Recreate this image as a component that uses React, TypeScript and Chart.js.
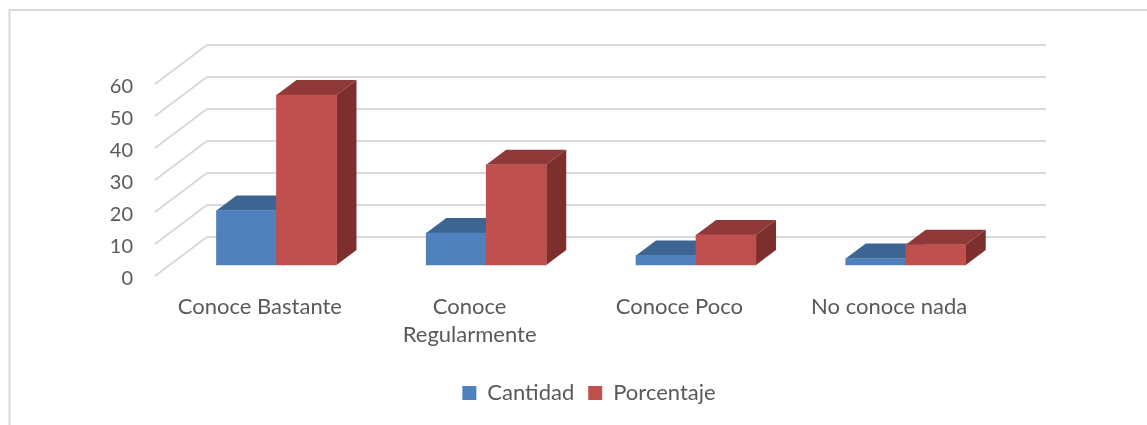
import React, { useEffect, useRef } from "react";
import { Chart, registerables } from "chart.js";

Chart.register(...registerables);

const categories = ["Conoce Bastante", ["Conoce", "Regularmente"], "Conoce Poco", "No conoce nada"];
const cantidad = [17, 10, 3, 2];
const porcentaje = [53.1, 31.3, 9.4, 6.3];
const seriesNames = ["Cantidad", "Porcentaje"];
const frontColors = ["#4F81BD", "#C0504D"];
const topColors = ["#3E6592", "#8F3A38"];
const sideColors = ["#35567C", "#7C2F2D"];

const GRID_LIFT = 3;
const WALL_DX = 52;
const WALL_DY = 39;
const PLANE_DX = 16.6;
const PLANE_DY = 14;
const BAR_DX = 20;
const BAR_DY = 15;
const LEGEND_SHIFT = 92;

const drawFaces = (chart: any, i: number) => {
  const { ctx } = chart;
  for (const bar of chart.getDatasetMeta(i).data) {
    const { x, y, base, width } = bar.getProps(["x", "y", "base", "width"], true);
    const l = x - width / 2;
    const r = x + width / 2;
    ctx.fillStyle = topColors[i];
    ctx.beginPath();
    ctx.moveTo(l, y);
    ctx.lineTo(l + BAR_DX, y - BAR_DY);
    ctx.lineTo(r + BAR_DX, y - BAR_DY);
    ctx.lineTo(r, y);
    ctx.closePath();
    ctx.fill();
    ctx.fillStyle = sideColors[i];
    ctx.beginPath();
    ctx.moveTo(r, y);
    ctx.lineTo(r + BAR_DX, y - BAR_DY);
    ctx.lineTo(r + BAR_DX, base - BAR_DY);
    ctx.lineTo(r, base);
    ctx.closePath();
    ctx.fill();
  }
};

const chart3d = {
  id: "chart3d",
  beforeDraw(chart: any) {
    const { ctx, chartArea, scales, legend } = chart;
    ctx.save();
    ctx.strokeStyle = "#D9D9D9";
    ctx.lineWidth = 2;
    ctx.strokeRect(9.5, 10, chart.width + 20, chart.height + 20);
    ctx.lineWidth = 1.8;
    for (const tick of scales.y.ticks) {
      const y = scales.y.getPixelForValue(tick.value) - GRID_LIFT;
      ctx.beginPath();
      ctx.moveTo(chartArea.left, y);
      ctx.lineTo(chartArea.left + WALL_DX, y - WALL_DY);
      ctx.lineTo(chartArea.right + WALL_DX, y - WALL_DY);
      ctx.stroke();
    }
    ctx.restore();
    if (legend && !legend.$shifted) {
      legend.left += LEGEND_SHIFT;
      legend.right += LEGEND_SHIFT;
      legend.$shifted = true;
    }
  },
  // Paint the datasets first to last, so that each bar hides the top face of the one before it.
  beforeDatasetsDraw(chart: any) {
    const { ctx } = chart;
    ctx.save();
    ctx.translate(PLANE_DX, -PLANE_DY);
    chart.data.datasets.forEach((_: any, i: number) => {
      drawFaces(chart, i);
      chart.getDatasetMeta(i).controller.draw();
    });
    ctx.restore();
    return false;
  },
};

export default function App() {
  const ref = useRef<HTMLCanvasElement>(null);
  useEffect(() => {
    const font = { family: "Lato", size: 22 };
    const chart = new Chart(ref.current!, {
      type: "bar",
      data: {
        labels: categories as any,
        datasets: [
          { label: seriesNames[0], data: cantidad, backgroundColor: frontColors[0] },
          { label: seriesNames[1], data: porcentaje, backgroundColor: frontColors[1] },
        ],
      },
      options: {
        responsive: false,
        animation: false,
        events: [],
        barThickness: 60,
        layout: { padding: { top: 87, left: 0, right: 153, bottom: 11 } },
        scales: {
          x: {
            grid: { display: false },
            border: { display: false },
            afterFit: (s: any) => { s.height = 89; },
            ticks: {
              color: "#595959",
              font: { ...font, lineHeight: 1.27 },
              padding: 6,
              autoSkip: false,
              maxRotation: 0,
              minRotation: 0,
            },
          },
          y: {
            min: 0,
            max: 60,
            grid: { display: false, drawTicks: false },
            border: { display: false },
            afterFit: (s: any) => { s.width = 155; },
            ticks: { stepSize: 10, color: "#595959", font: { family: "Lato", size: 20 }, padding: 22 },
          },
        },
        plugins: {
          title: { display: false },
          tooltip: { enabled: false },
          legend: {
            position: "bottom",
            labels: { color: "#595959", font, boxWidth: 14, boxHeight: 14, padding: 14 },
          },
        },
      } as any,
      plugins: [chart3d],
    });
    return () => chart.destroy();
  }, []);
  return (
    <div style={{ position: "fixed", left: 0, top: 0, width: 1147, height: 425, overflow: "hidden", background: "#fff" }}>
      <canvas ref={ref} width={1147} height={425} style={{ display: "block" }} />
    </div>
  );
}
